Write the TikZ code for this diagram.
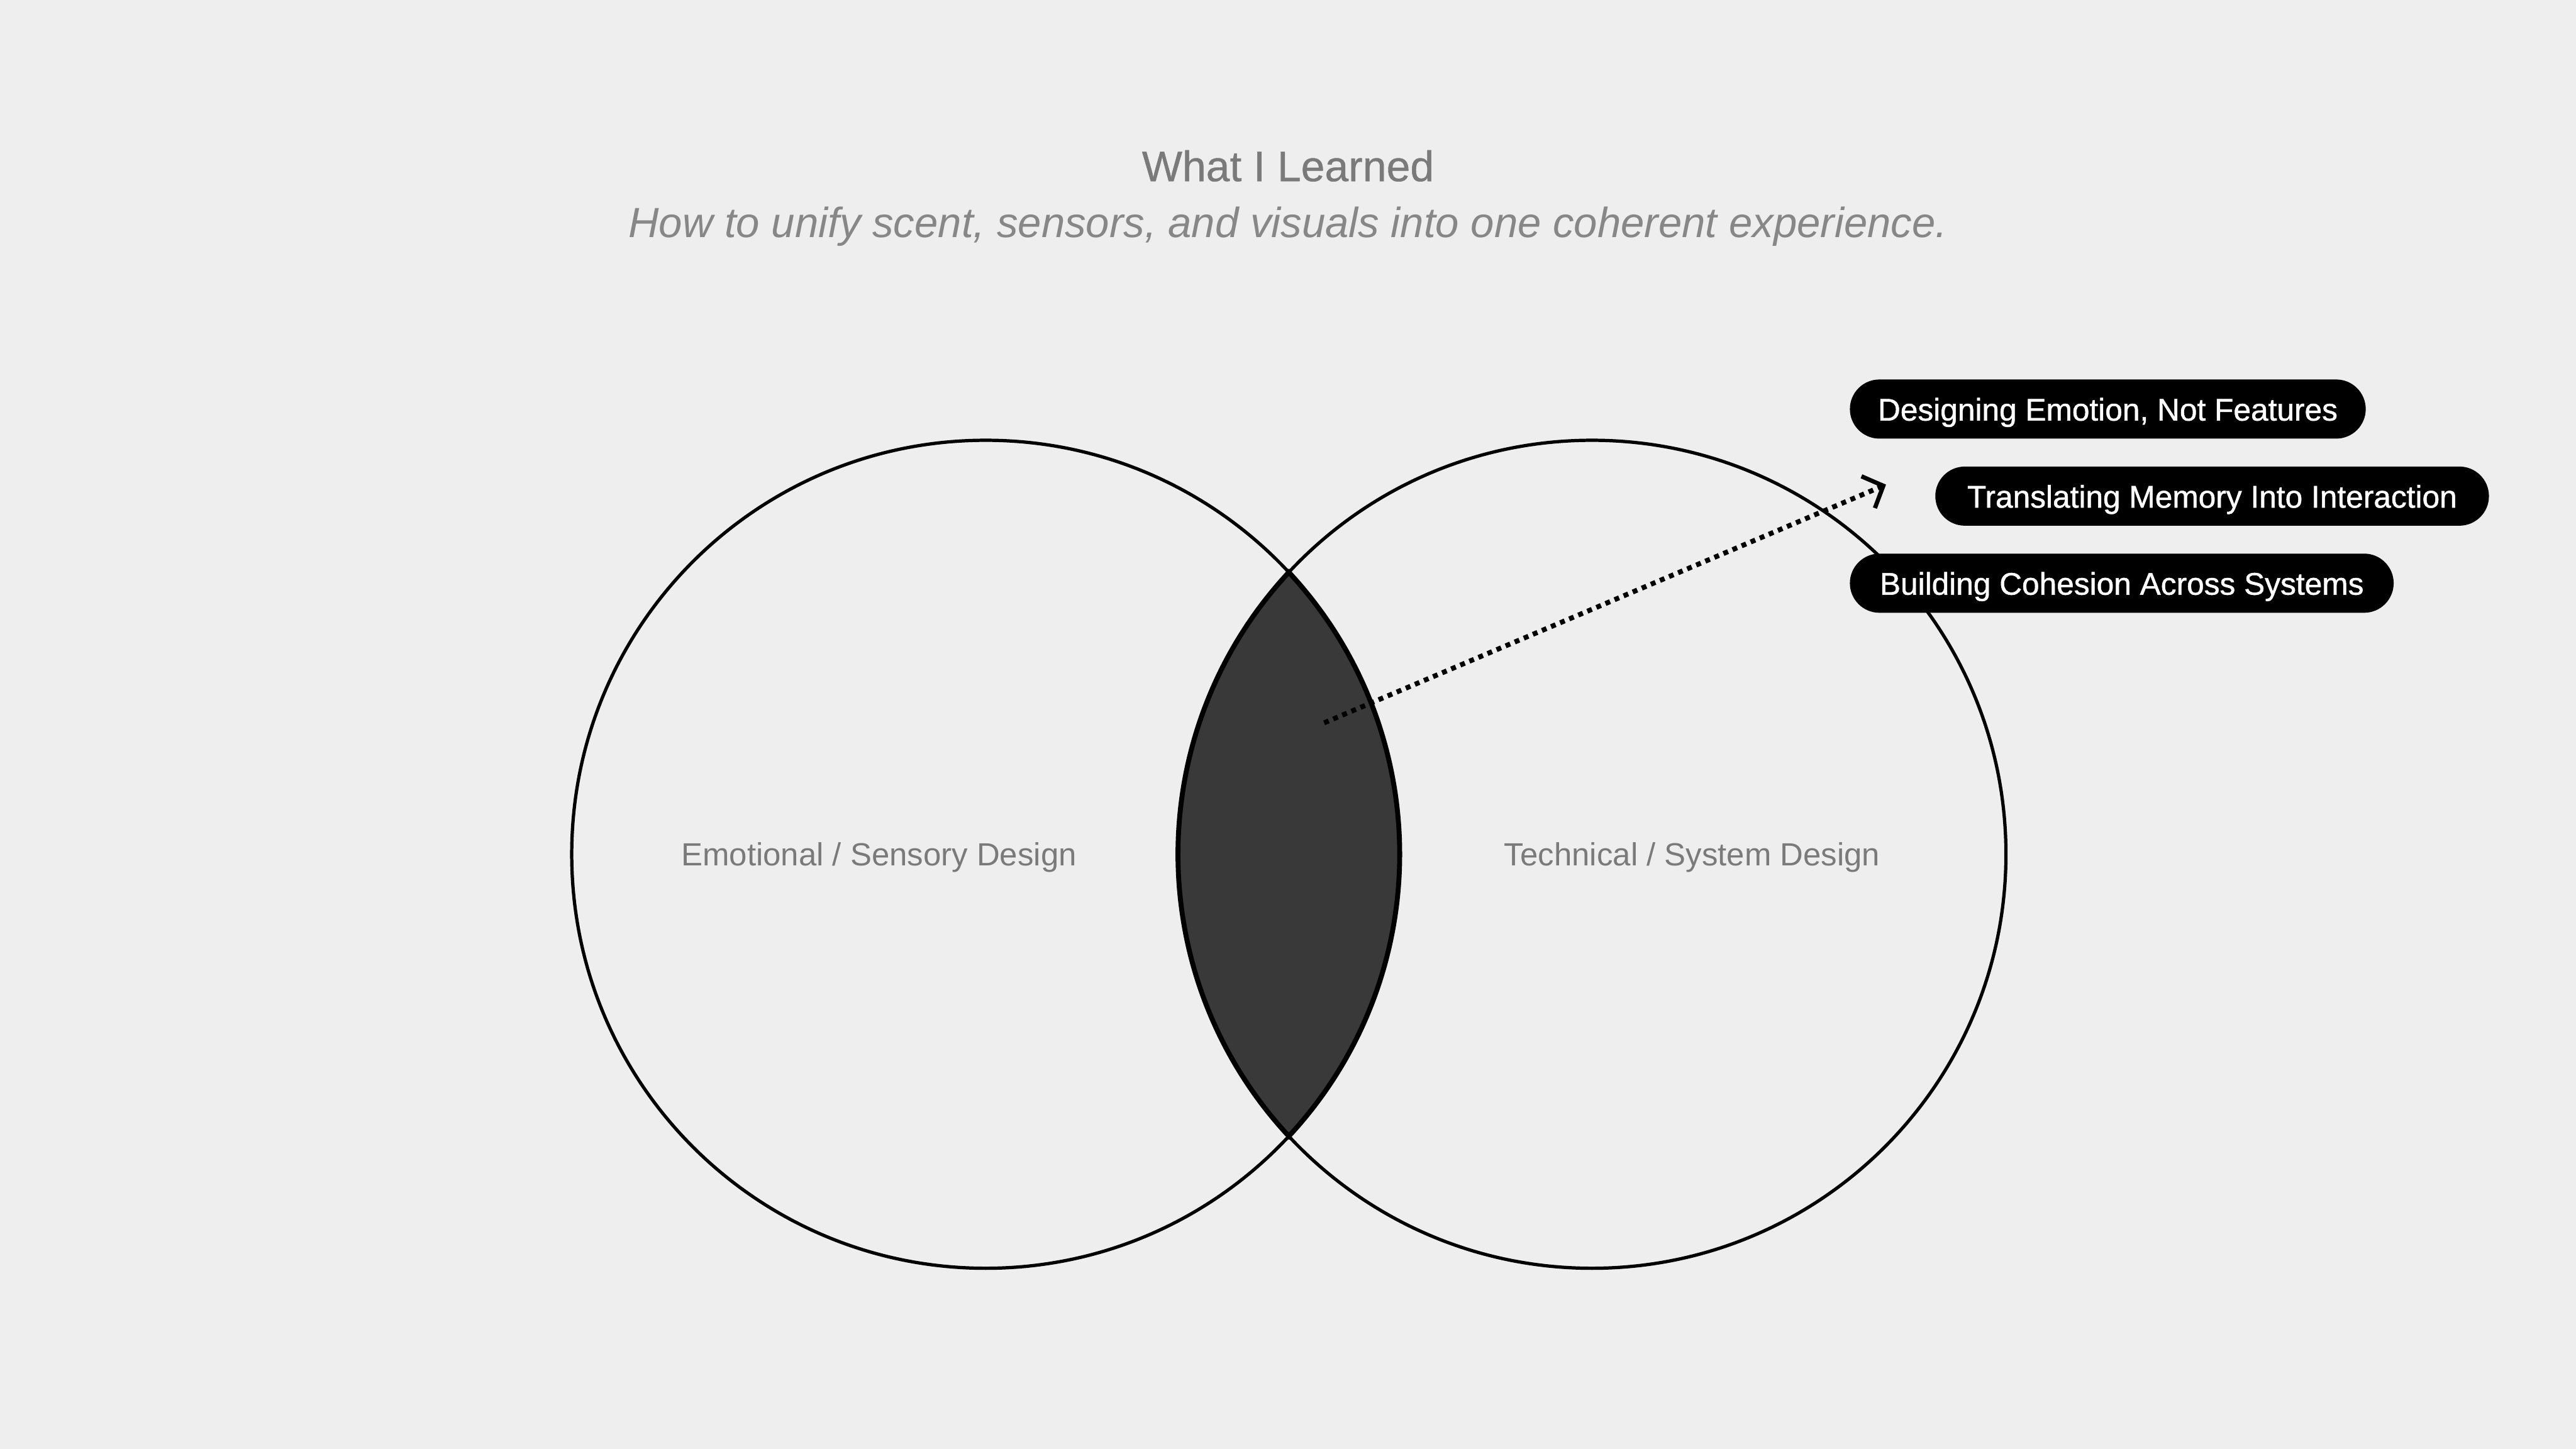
\documentclass[tikz,border=0pt]{standalone}
\usepackage{fontspec}
\setmainfont{Liberation Sans}
\newfontfamily\mediumfont[FakeBold=0.6]{Liberation Sans}
\newfontfamily\pillfont[FakeBold=1]{Liberation Sans}
\usetikzlibrary{arrows.meta}
\definecolor{paper}{HTML}{EEEEEE}
\definecolor{caption}{HTML}{7A7A7A}
\definecolor{lensgray}{HTML}{393939}

\begin{document}
\begin{tikzpicture}[x=1pt,y=1pt,
  pill/.style={fill=black,text=white,rounded corners=18pt,minimum height=36pt,
    inner xsep=0pt,text height=17pt,text depth=3pt,
    font=\pillfont\fontsize{19}{19}\selectfont},
  setname/.style={text=caption,font=\fontsize{19.5}{20}\selectfont},
  pointer/.style={line width=3pt,dash pattern=on 3pt off 3pt,
    -{Straight Barb[length=10pt,width=21pt,line width=2.6pt]}}]
  \fill[paper] (0,0) rectangle (1568,882);
  \useasboundingbox (0,0) rectangle (1568,882);

  % heading
  \node[text=caption,font=\mediumfont\fontsize{26}{26}\selectfont] (title) at (784,781) {What I Learned};
  \node[text=caption!90,font=\itshape\fontsize{25.7}{26}\selectfont] (subtitle) at (784,744)
    {How to unify scent, sensors, and visuals into one coherent experience.};

  % the two sets
  \coordinate (emo) at (600,362);
  \coordinate (tech) at (969,362);
  \draw[line width=2pt] (emo) circle[radius=252];
  \draw[line width=2pt] (tech) circle[radius=252];
  \filldraw[fill=lensgray,line width=3pt] (784.5,533.65)
    arc[start angle=137.07,end angle=222.93,radius=252]
    arc[start angle=-42.93,end angle=42.93,radius=252] -- cycle;
  \node[setname] (emolabel) at (535,360) {Emotional / Sensory Design};
  \node[setname] (techlabel) at (1030,360) {Technical / System Design};

  % takeaways
  \node[pill,minimum width=314pt] (emotion) at (1283,633) {Designing Emotion, Not Features};
  \node[pill,minimum width=337pt] (memory) at (1346.5,580) {Translating Memory Into Interaction};
  \node[pill,minimum width=331pt] (cohesion) at (1291.5,527) {Building Cohesion Across Systems};

  \coordinate (overlap) at (806,442);
  \coordinate (tip) at (1148,587);
  \draw[pointer] (overlap) -- (tip);
\end{tikzpicture}
\end{document}
